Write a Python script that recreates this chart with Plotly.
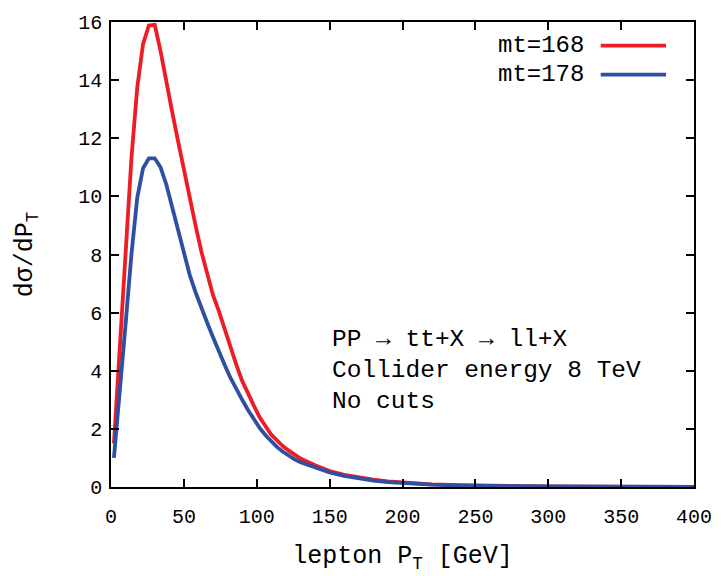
import plotly.graph_objects as go

pt = [2, 6, 10, 14, 18, 22, 26, 30, 34, 38, 42, 46, 50, 54, 58, 62, 66, 70, 74, 78,
      82, 86, 90, 94, 98, 102, 106, 110, 114, 118, 122, 126, 130, 140, 150, 160, 170,
      180, 190, 200, 220, 240, 260, 280, 300, 340, 400]

mt168 = [1.5, 4.9, 8.4, 11.3, 13.75, 15.25, 15.88, 15.9, 15.0, 13.9, 12.9, 11.9, 10.9,
         9.98, 9.0, 8.1, 7.3, 6.6, 6.05, 5.4, 4.75, 4.2, 3.65, 3.2, 2.8, 2.4, 2.1, 1.8,
         1.6, 1.4, 1.25, 1.1, 0.98, 0.75, 0.55, 0.42, 0.32, 0.25, 0.19, 0.15, 0.09, 0.06,
         0.04, 0.03, 0.02, 0.01, 0.005]

mt178 = [1.0, 3.5, 5.6, 8.0, 9.95, 10.97, 11.31, 11.31, 11.0, 10.4, 9.6, 8.8, 8.0, 7.3,
         6.7, 6.15, 5.65, 5.15, 4.65, 4.2, 3.75, 3.35, 3.0, 2.65, 2.32, 2.03, 1.78, 1.56,
         1.37, 1.21, 1.07, 0.95, 0.85, 0.66, 0.5, 0.38, 0.29, 0.22, 0.17, 0.13, 0.08,
         0.05, 0.035, 0.025, 0.018, 0.009, 0.004]

series_names = ["mt=168", "mt=178"]
colors = ["#ee1c25", "#2f4fa2"]
info_lines = ["PP \u2192 tt+X \u2192 ll+X", "Collider energy 8 TeV", "No cuts"]

FONT = "Liberation Mono, Courier New, monospace"

fig = go.Figure()
for name, ys, c in zip(series_names, [mt168, mt178], colors):
    fig.add_trace(go.Scatter(x=pt, y=ys, mode="lines", name=name,
                             line=dict(color=c, width=3.8), showlegend=False))

# legend drawn as text + line sample (text left of sample)
leg_y = [0.949, 0.887]
for name, c, yy in zip(series_names, colors, leg_y):
    fig.add_annotation(xref="paper", yref="paper", x=0.815, y=yy, text=name,
                       showarrow=False, xanchor="right", yanchor="middle",
                       font=dict(family=FONT, size=24, color="black"))
    fig.add_shape(type="line", xref="paper", yref="paper", x0=0.840, x1=0.952,
                  y0=yy, y1=yy, line=dict(color=c, width=3.8))

for txt, yy in zip(info_lines, [0.317, 0.250, 0.184]):
    fig.add_annotation(xref="paper", yref="paper", x=0.375, y=yy, text=txt,
                       showarrow=False, xanchor="left", yanchor="middle",
                       font=dict(family=FONT, size=24.5, color="black"))

fig.update_layout(
    width=725, height=576,
    margin=dict(l=111, r=31, t=17, b=89),
    plot_bgcolor="white", paper_bgcolor="white",
    font=dict(family=FONT, color="black"),
)
fig.update_xaxes(range=[0, 400], tickvals=[0, 50, 100, 150, 200, 250, 300, 350, 400],
                 showgrid=False, zeroline=False, showline=True, linecolor="black",
                 linewidth=1.5, mirror="ticks", ticks="inside", ticklen=8,
                 tickcolor="black", tickwidth=1.5, ticklabelstandoff=10,
                 tickfont=dict(family=FONT, size=20, color="black"),
                 title=dict(text="lepton P<sub>T</sub> [GeV]", standoff=18,
                            font=dict(family=FONT, size=25, color="black")))
fig.update_yaxes(range=[0, 16], tickvals=[0, 2, 4, 6, 8, 10, 12, 14, 16],
                 showgrid=False, zeroline=False, showline=True, linecolor="black",
                 linewidth=1.5, mirror="ticks", ticks="inside", ticklen=8,
                 tickcolor="black", tickwidth=1.5, ticklabelstandoff=3,
                 tickfont=dict(family=FONT, size=20, color="black"),
                 title=dict(text="d\u03c3/dP<sub>T</sub>", standoff=38,
                            font=dict(family=FONT, size=25, color="black")))

fig.write_html("out.html")
